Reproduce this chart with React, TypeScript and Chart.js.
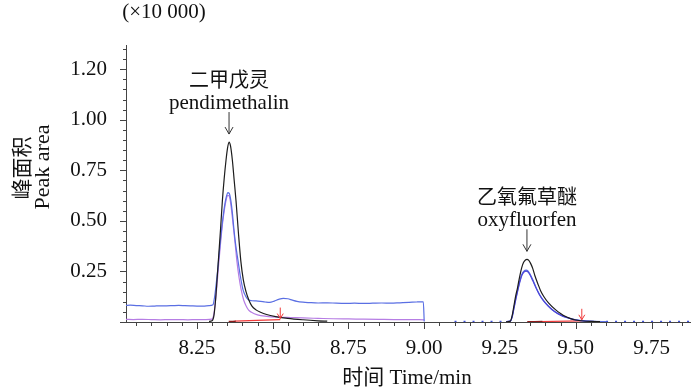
import React, { useEffect, useRef } from "react";
import { Chart, registerables } from "chart.js";

Chart.register(...registerables);

// ---------------- data ----------------
// retention time (min) / peak area (x10 000)
const blackPeak1Time = [8.29, 8.300, 8.306, 8.311, 8.316, 8.322, 8.328, 8.334, 8.340, 8.346, 8.351, 8.356, 8.361, 8.367, 8.373, 8.379, 8.387, 8.395, 8.403, 8.412, 8.421, 8.431, 8.445, 8.46, 8.48, 8.51, 8.55, 8.60, 8.65, 8.68];
const blackPeak1Area = [0.003, 0.006, 0.03, 0.10, 0.20, 0.33, 0.46, 0.60, 0.71, 0.80, 0.86, 0.89, 0.87, 0.80, 0.70, 0.60, 0.44, 0.30, 0.21, 0.15, 0.11, 0.08, 0.06, 0.048, 0.037, 0.027, 0.018, 0.011, 0.006, 0.004];

const blackPeak2Time = [9.27, 9.284, 9.290, 9.296, 9.302, 9.308, 9.315, 9.322, 9.328, 9.334, 9.339, 9.345, 9.351, 9.358, 9.365, 9.376, 9.384, 9.395, 9.41, 9.434, 9.45, 9.465, 9.481, 9.50, 9.525, 9.55, 9.58];
const blackPeak2Area = [0.001, 0.004, 0.03, 0.08, 0.13, 0.17, 0.225, 0.27, 0.295, 0.307, 0.31, 0.305, 0.29, 0.265, 0.23, 0.185, 0.155, 0.125, 0.095, 0.06, 0.042, 0.028, 0.018, 0.010, 0.005, 0.003, 0.002];

const blueSeg1Time = [8.016, 8.03, 8.05, 8.07, 8.09, 8.11, 8.13, 8.15, 8.17, 8.19, 8.21, 8.23, 8.25, 8.27, 8.29, 8.303, 8.308, 8.313, 8.318, 8.323, 8.328, 8.333, 8.338, 8.343, 8.348, 8.352, 8.357, 8.362, 8.367, 8.372, 8.378, 8.385, 8.393, 8.402, 8.41, 8.418, 8.431, 8.445, 8.46, 8.475, 8.49, 8.505, 8.52, 8.535, 8.55, 8.565, 8.58, 8.60, 8.62, 8.65, 8.68, 8.71, 8.74, 8.77, 8.80, 8.83, 8.86, 8.89, 8.92, 8.95, 8.975, 8.997, 9.0];
const blueSeg1Area = [0.082, 0.083, 0.081, 0.080, 0.078, 0.079, 0.080, 0.080, 0.081, 0.082, 0.081, 0.080, 0.079, 0.079, 0.081, 0.085, 0.12, 0.18, 0.25, 0.33, 0.41, 0.48, 0.54, 0.59, 0.625, 0.64, 0.635, 0.60, 0.54, 0.46, 0.38, 0.31, 0.23, 0.16, 0.13, 0.112, 0.105, 0.104, 0.102, 0.099, 0.097, 0.103, 0.112, 0.117, 0.115, 0.108, 0.102, 0.098, 0.096, 0.094, 0.095, 0.093, 0.092, 0.093, 0.092, 0.093, 0.094, 0.093, 0.095, 0.097, 0.099, 0.10, 0.002];

const blueSeg2Time = [9.27, 9.284, 9.290, 9.296, 9.302, 9.308, 9.315, 9.322, 9.329, 9.336, 9.343, 9.35, 9.358, 9.365, 9.375, 9.388, 9.402, 9.42, 9.442, 9.46, 9.48, 9.50, 9.53, 9.56, 9.60];
const blueSeg2Area = [0.002, 0.004, 0.025, 0.07, 0.115, 0.155, 0.2, 0.235, 0.252, 0.257, 0.252, 0.235, 0.21, 0.185, 0.152, 0.118, 0.091, 0.063, 0.041, 0.028, 0.018, 0.011, 0.006, 0.003, 0.002];

const blueNoiseTime = [9.10, 9.29, null, 9.60, 9.877];
const blueNoiseArea = [0.003, 0.003, null, 0.003, 0.003];

const purpleSeg1Time = [8.016, 8.04, 8.07, 8.10, 8.13, 8.16, 8.19, 8.22, 8.25, 8.28, 8.300, 8.306, 8.311, 8.316, 8.322, 8.328, 8.334, 8.340, 8.346, 8.351, 8.356, 8.361, 8.366, 8.371, 8.376, 8.382, 8.389, 8.396, 8.404, 8.412, 8.42, 8.43, 8.45, 8.48, 8.52, 8.56, 8.60, 8.65, 8.70, 8.75, 8.80, 8.85, 8.90, 8.95, 9.00];
const purpleSeg1Area = [0.013, 0.012, 0.013, 0.012, 0.011, 0.012, 0.012, 0.011, 0.012, 0.012, 0.014, 0.04, 0.10, 0.18, 0.29, 0.39, 0.48, 0.55, 0.60, 0.625, 0.625, 0.59, 0.53, 0.46, 0.39, 0.30, 0.22, 0.16, 0.11, 0.08, 0.06, 0.048, 0.035, 0.028, 0.024, 0.022, 0.02, 0.018, 0.016, 0.015, 0.014, 0.013, 0.012, 0.012, 0.011];

const purpleSeg2Time = [9.27, 9.284, 9.290, 9.296, 9.302, 9.308, 9.315, 9.322, 9.329, 9.336, 9.343, 9.35, 9.358, 9.368, 9.38, 9.395, 9.41, 9.43, 9.45, 9.47, 9.49, 9.52, 9.56];
const purpleSeg2Area = [0.002, 0.004, 0.023, 0.066, 0.11, 0.15, 0.195, 0.23, 0.247, 0.252, 0.247, 0.23, 0.205, 0.172, 0.135, 0.102, 0.078, 0.052, 0.034, 0.022, 0.013, 0.006, 0.003];

const redBase1Time = [8.375, 8.525];
const redBase1Area = [0.004, 0.012];
const darkRedBase1Time = [8.355, 8.378];
const darkRedBase1Area = [0.002, 0.004];
const redBase2Time = [9.385, 9.52];
const redBase2Area = [0.002, 0.006];
const darkRedBase2Time = [9.34, 9.39];
const darkRedBase2Area = [0.001, 0.002];

const xTickValues = [8.25, 8.5, 8.75, 9.0, 9.25, 9.5, 9.75];
const xTickLabels = ["8.25", "8.50", "8.75", "9.00", "9.25", "9.50", "9.75"];
const yTickValues = [0.25, 0.5, 0.75, 1.0, 1.25];
const yTickLabels = ["0.25", "0.50", "0.75", "1.00", "1.20"];

const compoundNamesZh = ["二甲戊灵", "乙氧氟草醚"];
const compoundNamesEn = ["pendimethalin", "oxyfluorfen"];

const yUnitLabel = "(×10 000)";
const yTitleZh = "峰面积";
const yTitleEn = "Peak area";
const xTitle = "时间 Time/min";

// ---------------- chart ----------------
const X_MIN = 8.016;
const X_MAX = 9.877;
const Y_MAX = 1.37;

function pts(t: (number | null)[], v: (number | null)[]) {
  return t.map((x, i) => (x === null ? { x: NaN, y: null } : { x, y: v[i] }));
}

function apex(t: number[], v: number[]) {
  let k = 0;
  for (let i = 1; i < v.length; i++) if (v[i] > v[k]) k = i;
  return { x: t[k], y: v[k] };
}

const SERIF = '"Liberation Serif", "Times New Roman", "Noto Sans CJK SC", serif';
const CJK = '"Noto Sans CJK SC", "Liberation Serif", serif';

export default function App() {
  const ref = useRef<HTMLCanvasElement>(null);

  useEffect(() => {
    document.body.style.margin = "0";
    const canvas = ref.current;
    if (!canvas) return;

    const peaks = [apex(blackPeak1Time, blackPeak1Area), apex(blackPeak2Time, blackPeak2Area)];
    const integrationEnds = [
      { x: redBase1Time[1], y: redBase1Area[1] },
      { x: redBase2Time[1], y: redBase2Area[1] },
    ];

    const overlay = {
      id: "overlay",
      afterDraw(chart: any) {
        const ctx = chart.ctx as CanvasRenderingContext2D;
        const xs = chart.scales.x;
        const ys = chart.scales.y;
        ctx.save();
        // tick marks
        ctx.strokeStyle = "#444";
        ctx.lineWidth = 1;
        ctx.beginPath();
        for (let i = 0; i <= 27; i++) {
          const v = i * 0.05;
          const y = Math.round(ys.getPixelForValue(v)) + 0.5;
          const len = i % 5 === 0 ? 6 : 3;
          ctx.moveTo(ys.right, y);
          ctx.lineTo(ys.right - len, y);
        }
        for (let i = Math.ceil(X_MIN / 0.05); i <= Math.floor(X_MAX / 0.05); i++) {
          const v = i * 0.05;
          const x = Math.round(xs.getPixelForValue(v)) + 0.5;
          const len = i % 5 === 0 ? 7 : 4;
          ctx.moveTo(x, xs.top);
          ctx.lineTo(x, xs.top + len);
        }
        ctx.stroke();

        // texts
        ctx.fillStyle = "#111";
        ctx.textAlign = "center";
        ctx.textBaseline = "middle";
        ctx.font = `21px ${SERIF}`;
        ctx.fillText(yUnitLabel, 164, 12);
        ctx.fillText(xTitle, 407, 378);

        ctx.save();
        ctx.translate(21, 168);
        ctx.rotate(-Math.PI / 2);
        ctx.font = `21px ${CJK}`;
        ctx.fillText(yTitleZh, 0, 0);
        ctx.restore();
        ctx.save();
        ctx.translate(43, 167);
        ctx.rotate(-Math.PI / 2);
        ctx.font = `22px ${SERIF}`;
        ctx.fillText(yTitleEn, 0, 0);
        ctx.restore();

        // compound annotations
        peaks.forEach((p, i) => {
          const px = xs.getPixelForValue(p.x);
          const tip = ys.getPixelForValue(p.y) - 8;
          const top = tip - 22;
          ctx.strokeStyle = "#333";
          ctx.lineWidth = 1;
          ctx.beginPath();
          ctx.moveTo(px, top);
          ctx.lineTo(px, tip);
          ctx.moveTo(px - 4, tip - 7);
          ctx.lineTo(px, tip);
          ctx.lineTo(px + 4, tip - 7);
          ctx.stroke();
          ctx.fillStyle = "#111";
          ctx.font = `21px ${SERIF}`;
          ctx.fillText(compoundNamesEn[i], px, top - 9);
          ctx.font = `20px ${CJK}`;
          ctx.fillText(compoundNamesZh[i], px, top - 33);
        });

        // integration end markers
        integrationEnds.forEach((p) => {
          const px = xs.getPixelForValue(p.x);
          const tip = ys.getPixelForValue(p.y) - 1;
          ctx.strokeStyle = "#f03a3a";
          ctx.lineWidth = 1;
          ctx.beginPath();
          ctx.moveTo(px, tip - 11);
          ctx.lineTo(px, tip);
          ctx.moveTo(px - 3, tip - 5);
          ctx.lineTo(px, tip);
          ctx.lineTo(px + 3, tip - 5);
          ctx.stroke();
        });
        ctx.restore();
      },
    };

    const BLACK = "#1c1c1c";
    const BLUE = "#5a6fe3";
    const PURPLE = "#b67de4";
    const RED = "#f03a3a";
    const DARKRED = "#8e1b1b";

    const line = (data: any[], color: string, extra: any = {}) => ({
      data,
      borderColor: color,
      backgroundColor: color,
      borderWidth: 1.2,
      pointRadius: 0,
      fill: false,
      cubicInterpolationMode: "monotone",
      spanGaps: false,
      ...extra,
    });

    const chart = new Chart(canvas, {
      type: "line",
      data: {
        datasets: [
          line(pts(blackPeak1Time, blackPeak1Area), BLACK),
          line(pts(blackPeak2Time, blackPeak2Area), BLACK),
          line(pts(purpleSeg2Time, purpleSeg2Area), "#4b45d8"),
          line(pts(blueSeg1Time, blueSeg1Area), BLUE),
          line(pts(blueSeg2Time, blueSeg2Area), BLUE),
          line(pts(blueNoiseTime, blueNoiseArea), "#3d4fd8", { borderDash: [2, 7], borderWidth: 1.5 }),
          line(pts(purpleSeg1Time, purpleSeg1Area), PURPLE),
          line(pts(darkRedBase1Time, darkRedBase1Area), DARKRED, { borderWidth: 1.5 }),
          line(pts(redBase1Time, redBase1Area), RED),
          line(pts(darkRedBase2Time, darkRedBase2Area), DARKRED, { borderWidth: 1.5 }),
          line(pts(redBase2Time, redBase2Area), RED),
        ] as any,
      },
      options: {
        animation: false,
        responsive: false,
        devicePixelRatio: 1,
        layout: { padding: { top: 45, right: 10, bottom: 0, left: 0 } },
        plugins: { legend: { display: false }, tooltip: { enabled: false } },
        scales: {
          x: {
            type: "linear",
            min: X_MIN,
            max: X_MAX,
            afterFit: (s: any) => {
              s.height = 69;
            },
            afterBuildTicks: (s: any) => {
              s.ticks = xTickValues.map((value) => ({ value }));
            },
            ticks: {
              autoSkip: false,
              maxRotation: 0,
              padding: 14,
              color: "#111",
              font: { family: SERIF, size: 21 },
              callback: (v: any) => {
                const i = xTickValues.findIndex((t) => Math.abs(t - Number(v)) < 1e-6);
                return i >= 0 ? xTickLabels[i] : "";
              },
            },
            grid: { display: false, drawTicks: false },
            border: { display: true, color: "#444", width: 1 },
          },
          y: {
            type: "linear",
            min: 0,
            max: Y_MAX,
            afterFit: (s: any) => {
              s.width = 126;
            },
            afterBuildTicks: (s: any) => {
              s.ticks = yTickValues.map((value) => ({ value }));
            },
            ticks: {
              autoSkip: false,
              padding: 19,
              color: "#111",
              font: { family: SERIF, size: 21 },
              callback: (v: any) => {
                const i = yTickValues.findIndex((t) => Math.abs(t - Number(v)) < 1e-6);
                return i >= 0 ? yTickLabels[i] : "";
              },
            },
            grid: { display: false, drawTicks: false },
            border: { display: true, color: "#444", width: 1 },
          },
        },
      } as any,
      plugins: [overlay],
    });

    return () => chart.destroy();
  }, []);

  return (
    <div style={{ width: 700, height: 391, background: "#fff" }}>
      <canvas ref={ref} width={700} height={391} style={{ display: "block" }} />
    </div>
  );
}
